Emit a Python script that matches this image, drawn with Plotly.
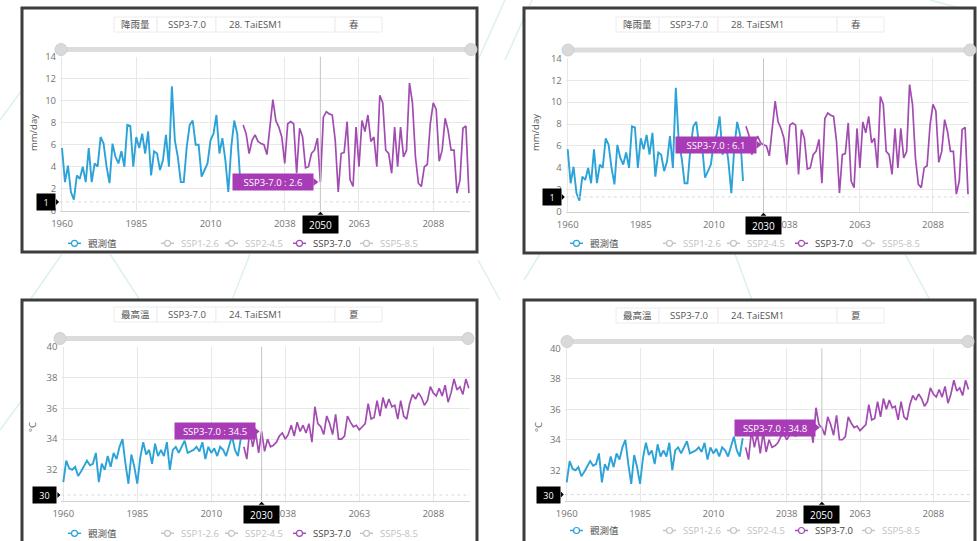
import plotly.graph_objects as go

W, H = 977, 541

# ---------------- data ----------------
years = [str(y) for y in list(range(1960, 2021)) + list(range(2024, 2101))]
obs_years = years[:61]
proj_years = years[61:]
tick_labels = ['1960', '1985', '2010', '2038', '2063', '2088']

precip_obs = [5.7, 2.6, 4.1, 1.7, 1.0, 3.2, 2.9, 4.0, 2.6, 5.7,
              2.6, 4.3, 4.0, 6.7, 6.1, 4.0, 2.5, 6.1, 4.9, 4.3,
              5.4, 4.0, 7.8, 7.7, 4.0, 6.7, 5.7, 7.0, 5.2, 7.2,
              3.2, 5.4, 5.2, 3.7, 4.6, 6.9, 4.0, 11.3, 6.4, 4.9,
              2.6, 2.6, 5.8, 7.8, 8.2, 6.0, 6.0, 3.1, 3.7, 4.3,
              6.4, 7.0, 8.7, 5.2, 6.6, 4.6, 1.7, 5.8, 8.2, 7.0, 2.8]
precip_ssp370 = [7.8, 7.0, 5.2, 6.4, 6.9, 6.3, 6.1, 6.0, 5.1, 7.8, 10.1,
                 8.2, 7.6, 6.7, 4.3, 7.9, 8.1, 7.9, 3.4, 7.5, 6.7,
                 3.9, 4.0, 5.2, 5.5, 6.6, 2.6, 8.5, 9.0, 8.8, 8.7,
                 6.4, 1.7, 5.2, 5.3, 8.1, 2.8, 2.2, 7.6, 4.0, 8.2,
                 7.2, 8.7, 6.3, 6.7, 4.0, 10.5,
                 9.8, 5.5, 5.2, 3.4, 7.6, 4.0, 7.6, 4.9, 5.5, 11.6,
                 9.8, 4.9, 2.5, 2.2, 4.0, 4.2, 7.9, 9.8, 9.2, 4.5,
                 5.5, 8.4, 7.3, 5.5, 5.5, 1.6, 2.8, 7.5, 7.7, 1.6]
tmax_obs = [31.2, 32.6, 32.1, 32.0, 32.2, 31.6, 31.9, 32.3, 32.6, 32.3,
            32.4, 33.1, 31.2, 32.4, 32.0, 32.9, 32.2, 33.1, 32.7, 33.5,
            34.0, 32.4, 31.1, 33.0, 32.2, 31.1, 32.8, 33.8, 33.0, 33.3,
            32.4, 33.7, 32.9, 33.3, 32.9, 33.8, 32.0, 33.3, 33.5, 33.1,
            33.5, 33.9, 33.1, 33.2, 33.3, 33.5, 33.2, 33.8, 32.7, 33.5,
            33.1, 33.4, 32.9, 33.5, 33.3, 32.9, 33.5, 34.2, 33.3, 32.9, 34.1]
tmax_ssp370 = [33.5, 32.7, 34.6, 33.5, 34.4, 33.1, 34.5, 33.2, 34.0, 33.5,
               33.6, 33.8, 34.2, 34.4, 34.0, 34.3, 34.9, 34.2, 35.1, 34.5,
               34.9, 34.4,
               35.0, 33.8, 36.1, 35.0, 34.8, 34.3, 35.5, 35.0, 34.3, 35.6,
               34.0, 34.0, 34.2, 35.5, 35.1, 34.8, 34.9, 34.6, 34.8, 35.0,
               36.3, 35.3, 35.4, 36.5, 35.5, 36.7, 36.0, 36.6, 36.1, 36.2,
               35.3, 36.5, 35.5, 35.3, 36.3, 36.9, 36.6, 37.0, 36.7, 36.2,
               36.5, 37.4, 37.0, 36.8, 37.3, 36.8, 37.5, 36.4, 37.0, 37.9,
               37.2, 37.4, 36.9, 37.9, 37.3]

legend_names = ['觀測值', 'SSP1-2.6', 'SSP2-4.5', 'SSP3-7.0', 'SSP5-8.5']

OBS_C = '#2ba3d8'
PROJ_C = '#a24cb2'
TIP_C = '#a83cb6'

def px(x):
    return x / W

def py(y):
    return 1 - y / H

panels = [
    dict(fl=22, ft=8, fr=477, fb=252, x0=62.0, ppi=2.97, ytop=56.7, ybot=210.7,
         yr=(0, 14), yt=[0, 2, 4, 6, 8, 10, 12, 14], obs=precip_obs, proj=precip_ssp370,
         hx='2050', hy=0.8, ylab='1',
         var='降雨量', model='28. TaiESM1', season='春', unit='mm/day',
         unit_xy=(33, 133), slider=(49.5, 61, 471), bar=(17, 32), leg_y=243.3),
    dict(fl=524, ft=8, fr=975, fb=253, x0=567.7, ppi=2.922, ytop=58.3, ybot=211.7,
         yr=(0, 14), yt=[0, 2, 4, 6, 8, 10, 12, 14], obs=precip_obs, proj=precip_ssp370,
         hx='2030', hy=1.35, ylab='1',
         var='降雨量', model='28. TaiESM1', season='春', unit='mm/day',
         unit_xy=(535, 133), slider=(50, 568, 970), bar=(17, 32), leg_y=243.3),
    dict(fl=22, ft=300, fr=477, fb=546, x0=63.3, ppi=2.96, ytop=346.7, ybot=500.7,
         yr=(30, 40), yt=[32, 34, 36, 38, 40], obs=tmax_obs, proj=tmax_ssp370,
         hx='2030', hy=30.37, ylab='30',
         var='最高溫', model='24. TaiESM1', season='夏', unit='°C',
         unit_xy=(32, 427), slider=(338.5, 60, 468), bar=(307, 322), leg_y=533.3),
    dict(fl=524, ft=300, fr=975, fb=546, x0=566.7, ppi=2.933, ytop=348.3, ybot=500.7,
         yr=(30, 40), yt=[32, 34, 36, 38, 40], obs=tmax_obs, proj=tmax_ssp370,
         hx='2050', hy=30.4, ylab='30',
         var='最高溫', model='24. TaiESM1', season='夏', unit='°C',
         unit_xy=(538, 427), slider=(341.5, 567, 968), bar=(308, 323), leg_y=530.5),
]

XR = (-0.65, 137.35)

fig = go.Figure()
shapes = []
annotations = []
FONT = 'Open Sans, Noto Sans CJK TC, sans-serif'

# faint decorative background lines
deco = [
    ((478, 60), (505, 0)), ((505, 60), (532, 0)), ((930, 0), (960, 8)),
    ((30, 300), (62, 254)), ((110, 254), (140, 300)), ((250, 254), (232, 300)),
    ((500, 300), (478, 260)), ((540, 254), (524, 280)), ((735, 254), (752, 300)),
    ((0, 120), (22, 90)), ((0, 430), (22, 400)), ((905, 254), (930, 300)),
]
for (a, b) in deco:
    shapes.append(dict(type='line', xref='paper', yref='paper', layer='below',
                       x0=px(a[0]), y0=py(a[1]), x1=px(b[0]), y1=py(b[1]),
                       line=dict(color='rgba(140,210,195,0.3)', width=1.5)))

for i, p in enumerate(panels, start=1):
    xa = 'x' if i == 1 else f'x{i}'
    ya = 'y' if i == 1 else f'y{i}'
    dom_l = p['x0'] + XR[0] * p['ppi']
    dom_r = p['x0'] + XR[1] * p['ppi']

    # frame
    shapes.append(dict(type='rect', xref='paper', yref='paper', layer='below',
                       x0=px(p['fl']), y0=py(p['fb']), x1=px(p['fr']), y1=py(p['ft']),
                       fillcolor='white', line=dict(color='#3d3d3d', width=3)))

    # axes
    fig.update_layout(**{
        ('xaxis' if i == 1 else f'xaxis{i}'): dict(
            domain=[px(dom_l), px(dom_r)], range=list(XR), type='category',
            tickmode='array', tickvals=tick_labels, ticktext=tick_labels,
            showgrid=True, gridcolor='#e8e8e8', gridwidth=1, zeroline=False,
            showline=True, linecolor='#d0d0d0', linewidth=1, ticks='',
            tickfont=dict(size=9.5, color='#737373', family=FONT), anchor=ya,
            ticklabelstandoff=4, fixedrange=True, automargin=False),
        ('yaxis' if i == 1 else f'yaxis{i}'): dict(
            domain=[py(p['ybot']), py(p['ytop'])], range=list(p['yr']),
            tickmode='array', tickvals=p['yt'],
            showgrid=True, gridcolor='#e8e8e8', gridwidth=1, zeroline=False,
            showline=False, ticks='', tickfont=dict(size=9.5, color='#737373', family=FONT),
            anchor=xa, ticklabelstandoff=3, fixedrange=True, automargin=False),
    })

    # data
    fig.add_trace(go.Scatter(x=obs_years, y=p['obs'], mode='lines', xaxis=xa, yaxis=ya,
                             line=dict(color=OBS_C, width=1.9), showlegend=False,
                             hoverinfo='skip', name='觀測值'))
    fig.add_trace(go.Scatter(x=proj_years, y=p['proj'], mode='lines', xaxis=xa, yaxis=ya,
                             line=dict(color=PROJ_C, width=1.7), showlegend=False,
                             hoverinfo='skip', name='SSP3-7.0'))

    # top selector bar
    bx = [92, 135, 194, 313, 360]
    b0, b1 = p['bar']
    for k in range(4):
        shapes.append(dict(type='rect', xref='paper', yref='paper',
                           x0=px(p['fl'] + bx[k]), x1=px(p['fl'] + bx[k + 1]),
                           y0=py(b1), y1=py(b0), fillcolor='white',
                           line=dict(color='#ececec', width=1)))
    texts = [(p['var'], 'center', (bx[0] + bx[1]) / 2),
             ('SSP3-7.0', 'center', (bx[1] + bx[2]) / 2),
             (p['model'], 'left', bx[2] + 11),
             (p['season'], 'left', bx[3] + 12)]
    for t, anc, xx in texts:
        annotations.append(dict(text=t, xref='paper', yref='paper', x=px(p['fl'] + xx),
                                y=py((b0 + b1) / 2), xanchor=anc, yanchor='middle',
                                showarrow=False, font=dict(size=9.5, color='#555', family=FONT)))

    # data-zoom slider
    sy, sl, sr = p['slider']
    shapes.append(dict(type='line', xref='paper', yref='paper', x0=px(sl), x1=px(sr),
                       y0=py(sy), y1=py(sy), line=dict(color='#dcdcdc', width=5)))
    for cx in (sl, sr):
        shapes.append(dict(type='circle', xref='paper', yref='paper',
                           x0=px(cx - 6), x1=px(cx + 6), y0=py(sy + 6), y1=py(sy - 6),
                           fillcolor='#d9d9d9', line=dict(color='#cfcfcf', width=1)))

    # y unit title
    ux, uy = p['unit_xy']
    annotations.append(dict(text=p['unit'], xref='paper', yref='paper', x=px(ux), y=py(uy),
                            textangle=-90, showarrow=False, xanchor='center', yanchor='middle',
                            font=dict(size=9.5, color='#555', family=FONT)))

    # hover state: crosshair, tooltip and axis pointer labels
    hidx = years.index(p['hx'])
    val = p['proj'][proj_years.index(p['hx'])]
    shapes.append(dict(type='line', xref=xa, yref=f'{ya} domain', x0=hidx, x1=hidx,
                       y0=0, y1=1, line=dict(color='#c4c4c4', width=1), layer='above'))
    shapes.append(dict(type='line', xref=f'{xa} domain', yref=ya, x0=0, x1=1,
                       y0=p['hy'], y1=p['hy'], line=dict(color='#d8d8d8', width=1, dash='dot'),
                       layer='above'))
    annotations.append(dict(text=f'SSP3-7.0 : {val}', xref=xa, yref=ya, x=hidx, y=val,
                            xanchor='right', yanchor='middle', xshift=-6, showarrow=False,
                            bgcolor=TIP_C, width=78, height=14,
                            font=dict(size=9.5, color='white', family=FONT)))
    shapes.append(dict(type='path', xref=xa, yref=ya, xsizemode='pixel', ysizemode='pixel',
                       xanchor=hidx, yanchor=val, path='M -7,-4 L -2,0 L -7,4 Z',
                       fillcolor=TIP_C, line=dict(width=0), layer='above'))
    annotations.append(dict(text=p['hx'], xref=xa, yref=f'{ya} domain', x=hidx, y=0,
                            xanchor='center', yanchor='top', yshift=-4, showarrow=False,
                            bgcolor='black', width=33, height=15,
                            font=dict(size=10, color='white', family=FONT)))
    shapes.append(dict(type='path', xref=xa, yref=f'{ya} domain', xsizemode='pixel',
                       ysizemode='pixel', xanchor=hidx, yanchor=0,
                       path='M -3,-4 L 0,-1 L 3,-4 Z', fillcolor='black',
                       line=dict(width=0), layer='above'))
    annotations.append(dict(text=p['ylab'], xref=f'{xa} domain', yref=ya, x=0, y=p['hy'],
                            xanchor='right', yanchor='middle', xshift=-4, showarrow=False,
                            bgcolor='black', width=16 if len(p['ylab']) == 1 else 21, height=14,
                            font=dict(size=9, color='white', family=FONT)))
    shapes.append(dict(type='path', xref=f'{xa} domain', yref=ya, xsizemode='pixel',
                       ysizemode='pixel', xanchor=0, yanchor=p['hy'],
                       path='M -4,-3 L -1,0 L -4,3 Z', fillcolor='black',
                       line=dict(width=0), layer='above'))

    # legend
    offs = [46, 139, 203, 271, 338]
    icol = [OBS_C, '#c4c4c4', '#c4c4c4', PROJ_C, '#c4c4c4']
    tcol = ['#555', '#c2c2c2', '#c2c2c2', '#444', '#c2c2c2']
    ly = p['leg_y']
    for k, name in enumerate(legend_names):
        lx = p['fl'] + offs[k]
        shapes.append(dict(type='line', xref='paper', yref='paper', x0=px(lx), x1=px(lx + 13),
                           y0=py(ly), y1=py(ly), line=dict(color=icol[k], width=1.5)))
        shapes.append(dict(type='circle', xref='paper', yref='paper',
                           x0=px(lx + 3.5), x1=px(lx + 9.5), y0=py(ly + 3), y1=py(ly - 3),
                           fillcolor='white', line=dict(color=icol[k], width=1.2)))
        annotations.append(dict(text=name, xref='paper', yref='paper', x=px(lx + 18), y=py(ly),
                                xanchor='left', yanchor='middle', showarrow=False,
                                font=dict(size=9.5, color=tcol[k], family=FONT)))

fig.update_layout(width=W, height=H, autosize=False,
                  margin=dict(l=0, r=0, t=0, b=0, pad=0, autoexpand=False),
                  paper_bgcolor='white', plot_bgcolor='rgba(0,0,0,0)',
                  font=dict(family=FONT),
                  shapes=shapes, annotations=annotations, showlegend=False)

fig.write_html('out.html', config=dict(displayModeBar=False),
               post_script="document.body.style.margin='0';document.body.style.overflow='hidden';")
